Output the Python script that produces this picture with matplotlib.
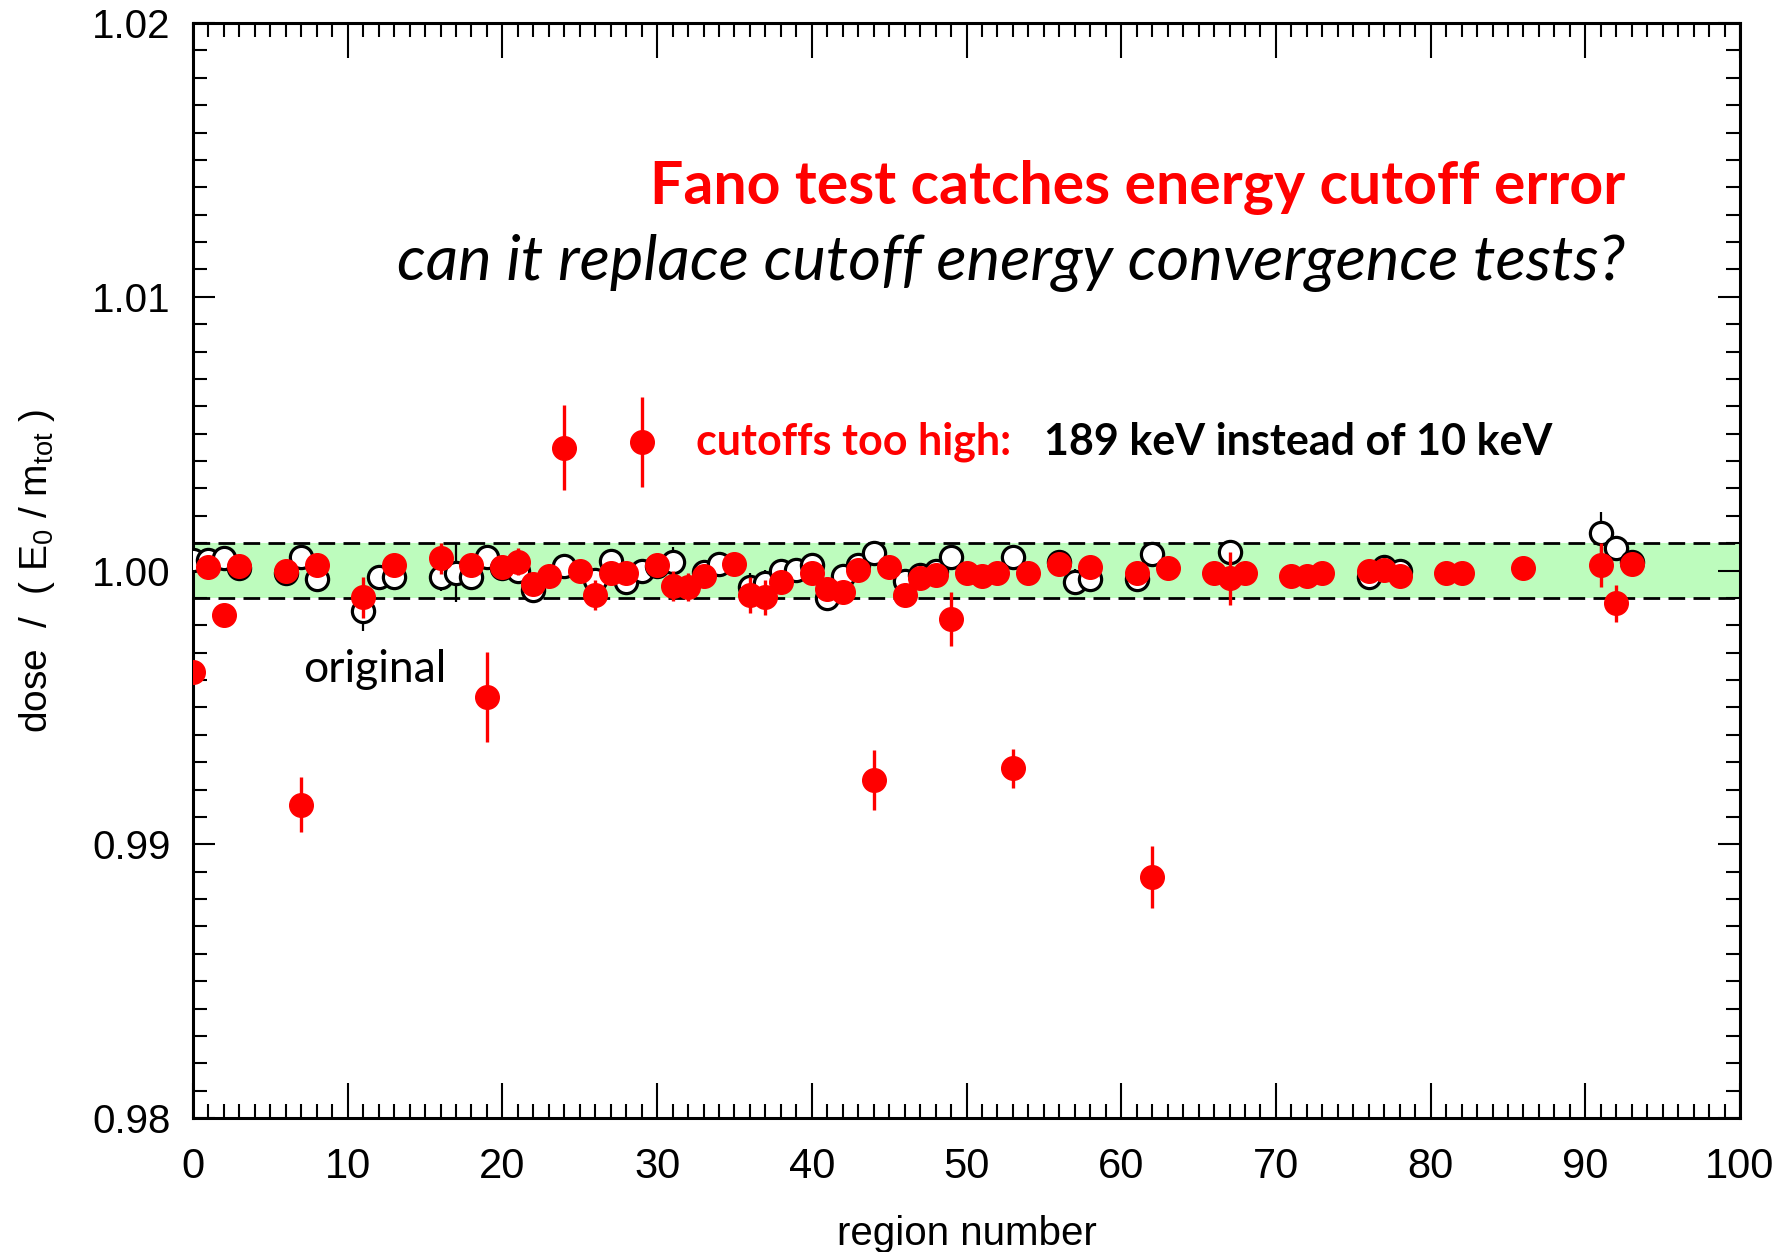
import matplotlib
matplotlib.use("Agg")
import matplotlib.pyplot as plt
from matplotlib.ticker import MultipleLocator, FormatStrFormatter

# original run: open circles
orig_region = [0, 1, 2, 3, 6, 7, 8, 11, 12, 13, 16, 17, 18, 19, 20, 21, 22, 24,
               26, 27, 28, 29, 30, 31, 33, 34, 36, 37, 38, 39, 40, 41, 42, 43,
               44, 46, 47, 48, 49, 53, 56, 57, 58, 61, 62, 67, 76, 77, 78, 91,
               92, 93]
orig_dose = [1.0004, 1.0004, 1.00045, 1.0001, 0.9999, 1.0005, 0.99968, 0.99853,
             0.99977, 0.99977, 0.99977, 0.9999, 0.99977, 1.00049, 1.0001, 1.0000,
             0.99929, 1.00017, 0.99965, 1.00036, 0.99959, 1.0000, 1.00015,
             1.00032, 0.99995, 1.00025, 0.9994, 0.99953, 0.99998, 1.00003,
             1.0002, 0.9990, 0.9998, 1.0002, 1.00063, 0.9996, 0.99985, 1.0000,
             1.0005, 1.0005, 1.0003, 0.99959, 0.9997, 0.9997, 1.0006, 1.00069,
             0.99975, 1.00014, 1.0000, 1.00138, 1.00081, 1.0003]
orig_err = [0.0002, 0.0002, 0.0002, 0.0002, 0.0002, 0.0002, 0.0002, 0.00073,
            0.0002, 0.0002, 0.0005, 0.00106, 0.0002, 0.0002, 0.0002, 0.00035,
            0.00035, 0.0002, 0.0004, 0.0004, 0.0002, 0.0002, 0.0002, 0.00055,
            0.0002, 0.0002, 0.0005, 0.0005, 0.0002, 0.0002, 0.0002, 0.0004,
            0.0002, 0.0002, 0.0002, 0.0002, 0.0002, 0.0002, 0.0002, 0.0002,
            0.0002, 0.00045, 0.0002, 0.0002, 0.0002, 0.0002, 0.0002, 0.0002,
            0.0002, 0.00077, 0.0002, 0.0002]

# cutoffs too high: red filled circles
high_region = [0, 1, 2, 3, 6, 7, 8, 11, 13, 16, 18, 19, 20, 21, 22, 23, 24, 25,
               26, 27, 28, 29, 30, 31, 32, 33, 35, 36, 37, 38, 40, 41, 42, 43,
               44, 45, 46, 47, 48, 49, 50, 51, 52, 53, 54, 56, 58, 61, 62, 63,
               66, 67, 68, 71, 72, 73, 76, 77, 78, 81, 82, 86, 91, 92, 93]
high_dose = [0.99631, 1.00014, 0.99838, 1.00017, 1.0000, 0.99145, 1.0002,
             0.99902, 1.0002, 1.00044, 1.00021, 0.99538, 1.00014, 1.00032,
             0.99951, 0.9998, 1.00449, 1.0000, 0.99911, 0.99992, 0.99992,
             1.0047, 1.0002, 0.99943, 0.9994, 0.9998, 1.00025, 0.99911,
             0.99902, 0.99959, 0.99992, 0.99931, 0.99923, 1.00003, 0.99236,
             1.00014, 0.9991, 0.99974, 0.99984, 0.99823, 0.9999, 0.9998,
             0.9999, 0.99277, 0.9999, 1.00025, 1.00014, 0.99992, 0.9888,
             1.0001, 0.9999, 0.99971, 0.9999, 0.9998, 0.9998, 0.9999, 1.0000,
             1.00002, 0.9998, 0.9999, 0.9999, 1.0001, 1.0002, 0.9988, 1.00025]
high_err = [0.0002, 0.0002, 0.0002, 0.0002, 0.0002, 0.001, 0.0002, 0.00075,
            0.0002, 0.00055, 0.0002, 0.00166, 0.0002, 0.00049, 0.0002, 0.0002,
            0.00155, 0.0002, 0.00055, 0.0004, 0.0002, 0.00165, 0.0002, 0.00055,
            0.0005, 0.0002, 0.0002, 0.00067, 0.00064, 0.0002, 0.0002, 0.0004,
            0.0004, 0.0002, 0.0011, 0.0002, 0.0002, 0.0002, 0.0002, 0.001,
            0.0002, 0.0002, 0.0002, 0.0007, 0.0002, 0.0002, 0.0002, 0.0002,
            0.00114, 0.0002, 0.0002, 0.00097, 0.0002, 0.0002, 0.0002, 0.0002,
            0.0002, 0.0002, 0.0002, 0.0002, 0.0002, 0.0002, 0.00079, 0.00067,
            0.0002]

band_lo, band_hi = 0.999, 1.001

plt.rcParams["font.family"] = ["Liberation Sans", "DejaVu Sans"]
calibri = ["Lato", "DejaVu Sans"]

fig = plt.figure(figsize=(17.77, 12.52), dpi=100)
ax = fig.add_axes([0.1086, 0.107, 0.8706, 0.8746])

ax.axhspan(band_lo, band_hi, color="#bdfcbd", lw=0, zorder=1)
for yb in (band_lo, band_hi):
    ax.axhline(yb, color="black", lw=2.0, dashes=(6, 3), zorder=2)

ax.errorbar(orig_region, orig_dose, yerr=orig_err, fmt="o", ms=16,
            mfc="white", mec="black", mew=2.3, ecolor="black",
            elinewidth=1.6, capsize=0, zorder=3)
ax.errorbar(high_region, high_dose, yerr=high_err, fmt="o", ms=17,
            color="red", mec="red", ecolor="red", elinewidth=2.4,
            capsize=0, zorder=4)

ax.text(92.6, 1.01401, "Fano test catches energy cutoff error", ha="right",
        va="center", color="red", fontweight="bold", fontsize=42.5,
        family=calibri)
ax.text(92.6, 1.01123, "can it replace cutoff energy convergence tests?",
        ha="right", va="center", color="black", style="italic", fontsize=45.5,
        family=calibri)
ax.text(32.5, 1.00469, "cutoffs too high:", ha="left", va="center",
        color="red", fontweight="bold", fontsize=31, family=calibri)
ax.text(55.0, 1.00469, "189 keV instead of 10 keV", ha="left", va="center",
        color="black", fontweight="bold", fontsize=31, family=calibri)
ax.text(7.1, 0.9964, "original", ha="left", va="center", color="black",
        fontsize=32, family=calibri)

ax.set_xlim(0, 100)
ax.set_ylim(0.98, 1.02)
ax.xaxis.set_major_locator(MultipleLocator(10))
ax.xaxis.set_minor_locator(MultipleLocator(1))
ax.yaxis.set_major_locator(MultipleLocator(0.01))
ax.yaxis.set_minor_locator(MultipleLocator(0.001))
ax.yaxis.set_major_formatter(FormatStrFormatter("%.2f"))

ax.tick_params(which="both", direction="in", top=True, right=True, width=1.5)
ax.tick_params(axis="x", which="major", length=25, pad=21, labelsize=30)
ax.tick_params(axis="y", which="major", length=16, pad=16, labelsize=29)
ax.tick_params(which="minor", length=10)
for sp in ax.spines.values():
    sp.set_linewidth(2.2)

ax.set_xlabel("region number", fontsize=29, labelpad=20)
ax.set_ylabel(r"dose  /  ( E$_\mathregular{0}$ / m$_\mathregular{tot}$ )",
              fontsize=28, labelpad=25)

fig.savefig("out.png", dpi=100)
